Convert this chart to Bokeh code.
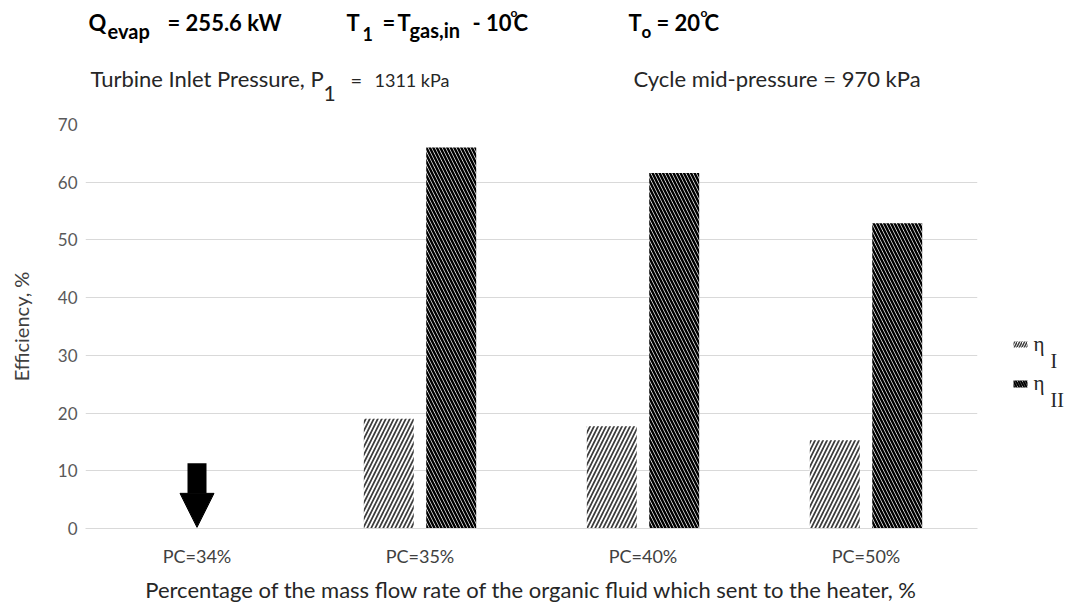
from bokeh.plotting import figure
from bokeh.layouts import column, row
from bokeh.models import (ColumnDataSource, FactorRange, Label, Range1d,
                          Arrow, NormalHead, FixedTicker)
from bokeh.transform import dodge
from bokeh.embed import file_html
from bokeh.resources import INLINE

# ---------------- data ----------------
categories = ["PC=34%", "PC=35%", "PC=40%", "PC=50%"]
eta_I = [0.0, 19.0, 17.7, 15.3]
eta_II = [0.0, 66.0, 61.6, 52.9]
y_ticks = [0, 10, 20, 30, 40, 50, 60, 70]
arrow_category = ["PC=34%"]
arrow_from = [11.3]
arrow_to = [0.2]

# ---------------- layout ----------------
TOTAL_W, TOTAL_H = 1073, 608
HEAD_H = 112                      # header strip height
FRAME_L, FRAME_R, FRAME_T, FRAME_B = 85, 977, 124, 528
MAIN_MR = 10
MAIN_W = FRAME_R + MAIN_MR
MAIN_H = TOTAL_H - HEAD_H
LEG_W = TOTAL_W - MAIN_W
MT = FRAME_T - HEAD_H
MB = TOTAL_H - FRAME_B

FONT = "Lato"
SERIF = "Liberation Serif"
HATCH_I = dict(hatch_pattern="right_diagonal_line", hatch_color="#3c3c3c")
HATCH_II = dict(hatch_pattern="left_diagonal_line", hatch_color="black")


def blank(width, height, x0, x1, y0, y1, top=0, bottom=0):
    f = figure(width=width, height=height,
               x_range=Range1d(x0, x1), y_range=Range1d(y1, y0),
               output_backend="svg", toolbar_location=None,
               x_axis_location=None, y_axis_location=None,
               min_border=0, min_border_left=0, min_border_right=0,
               min_border_top=top, min_border_bottom=bottom)
    f.outline_line_color = None
    f.grid.visible = False
    return f


def lab(fig, text, x, y, size, bold=False, font=FONT, color="black"):
    # y is the wanted baseline in page pixels; Label sits a little low
    fig.add_layout(Label(x=x, y=y - 0.35 * size, text=text, text_font=font,
                         text_font_size=f"{size}px",
                         text_font_style="bold" if bold else "normal",
                         text_color=color, text_baseline="alphabetic",
                         text_align="left"))


# ---------------- header (page pixel coordinates) ----------------
head = blank(TOTAL_W, HEAD_H, 0, TOTAL_W, 0, HEAD_H)
lab(head, "Q", 88, 30, 22, True)
lab(head, "evap", 107, 37, 20, True)
lab(head, "= 255.6 kW", 167, 30, 22, True)
lab(head, "T", 346, 30, 22, True)
lab(head, "1", 362, 40, 18, True)
lab(head, "=", 382, 30, 22, True)
lab(head, "T", 397, 30, 22, True)
lab(head, "gas,in", 409, 36, 20, True)
lab(head, "- 10", 472, 30, 22, True)
lab(head, "o", 510, 16, 12, True)
lab(head, "C", 513, 30, 22, True)
lab(head, "T", 628, 30, 22, True)
lab(head, "o", 641, 37, 17, True)
lab(head, "= 20", 656, 30, 22, True)
lab(head, "o", 700, 16, 12, True)
lab(head, "C", 704, 30, 22, True)

lab(head, "Turbine Inlet Pressure, P", 90, 86, 22, False, color="#262626")
lab(head, "1", 323, 100, 21, False, color="#262626")
lab(head, "=", 350, 86, 20, False, color="#262626")
lab(head, "1311 kPa", 374, 86, 18, False, color="#262626")
lab(head, "Cycle mid-pressure = 970 kPa", 633, 86, 22, False, color="#262626")

# ---------------- main chart ----------------
src = ColumnDataSource(dict(cat=categories, eta_I=eta_I, eta_II=eta_II))

p = figure(width=MAIN_W, height=MAIN_H,
           x_range=FactorRange(*categories), y_range=(0, 70),
           output_backend="svg", toolbar_location=None,
           min_border_left=FRAME_L, min_border_right=MAIN_MR,
           min_border_top=MT, min_border_bottom=MB)
p.outline_line_color = None

p.vbar(x=dodge("cat", -0.14, range=p.x_range), top="eta_I", width=0.224,
       source=src, fill_color="white", line_color=None,
       hatch_weight=1.7, hatch_scale=8, **HATCH_I)
p.vbar(x=dodge("cat", 0.14, range=p.x_range), top="eta_II", width=0.224,
       source=src, fill_color="white", line_color=None,
       hatch_weight=2.5, hatch_scale=7, **HATCH_II)

asrc = ColumnDataSource(dict(x=arrow_category, y0=arrow_from, y1=arrow_to))
p.add_layout(Arrow(source=asrc, x_start="x", y_start="y0", x_end="x", y_end="y1",
                   line_width=19, line_color="black", line_cap="butt",
                   end=NormalHead(size=34, fill_color="black", line_color="black",
                                  line_width=1)))

p.xgrid.grid_line_color = None
p.ygrid.grid_line_color = "#d9d9d9"
p.ygrid.grid_line_width = 1
p.ygrid.ticker = FixedTicker(ticks=y_ticks)

p.yaxis.ticker = FixedTicker(ticks=y_ticks)
p.yaxis.axis_line_color = None
p.yaxis.major_tick_line_color = None
p.yaxis.minor_tick_line_color = None
p.yaxis.major_label_standoff = 2
p.yaxis.major_label_text_font = FONT
p.yaxis.major_label_text_font_size = "17px"
p.yaxis.major_label_text_color = "#595959"
p.yaxis.axis_label = "Efficiency, %"
p.yaxis.axis_label_text_font = FONT
p.yaxis.axis_label_text_font_size = "20px"
p.yaxis.axis_label_text_font_style = "normal"
p.yaxis.axis_label_text_color = "#404040"
p.yaxis.axis_label_standoff = 22

p.xaxis.axis_line_color = "#d9d9d9"
p.xaxis.major_tick_line_color = None
p.xaxis.minor_tick_line_color = None
p.xaxis.major_label_standoff = 10
p.xaxis.major_label_text_font = FONT
p.xaxis.major_label_text_font_size = "18px"
p.xaxis.major_label_text_color = "#404040"
p.xaxis.axis_label = "Percentage of the mass flow rate of the organic fluid which sent to the heater, %"
p.xaxis.axis_label_text_font = FONT
p.xaxis.axis_label_text_font_size = "22px"
p.xaxis.axis_label_text_font_style = "normal"
p.xaxis.axis_label_text_color = "#262626"
p.xaxis.axis_label_standoff = 6

# ---------------- legend strip (page pixel coordinates) ----------------
leg = blank(LEG_W, MAIN_H, MAIN_W, TOTAL_W, FRAME_T, FRAME_B, top=MT, bottom=MB)
sw_left = [1013]
sw_right = [1027]
leg.quad(left=sw_left, right=sw_right, top=[341], bottom=[347],
         fill_color="white", line_color=None, hatch_weight=1.5, hatch_scale=5, **HATCH_I)
leg.quad(left=sw_left, right=sw_right, top=[380], bottom=[387],
         fill_color="white", line_color=None, hatch_weight=2, hatch_scale=5, **HATCH_II)
lab(leg, "\u03b7", 1033, 351, 21, False, SERIF, "#262626")
lab(leg, "I", 1050, 367, 20, False, SERIF, "#262626")
lab(leg, "\u03b7", 1033, 390, 21, False, SERIF, "#262626")
lab(leg, "II", 1050, 406, 20, False, SERIF, "#262626")

layout = column(head, row(p, leg))
open("out.html", "w").write(file_html(layout, INLINE))
